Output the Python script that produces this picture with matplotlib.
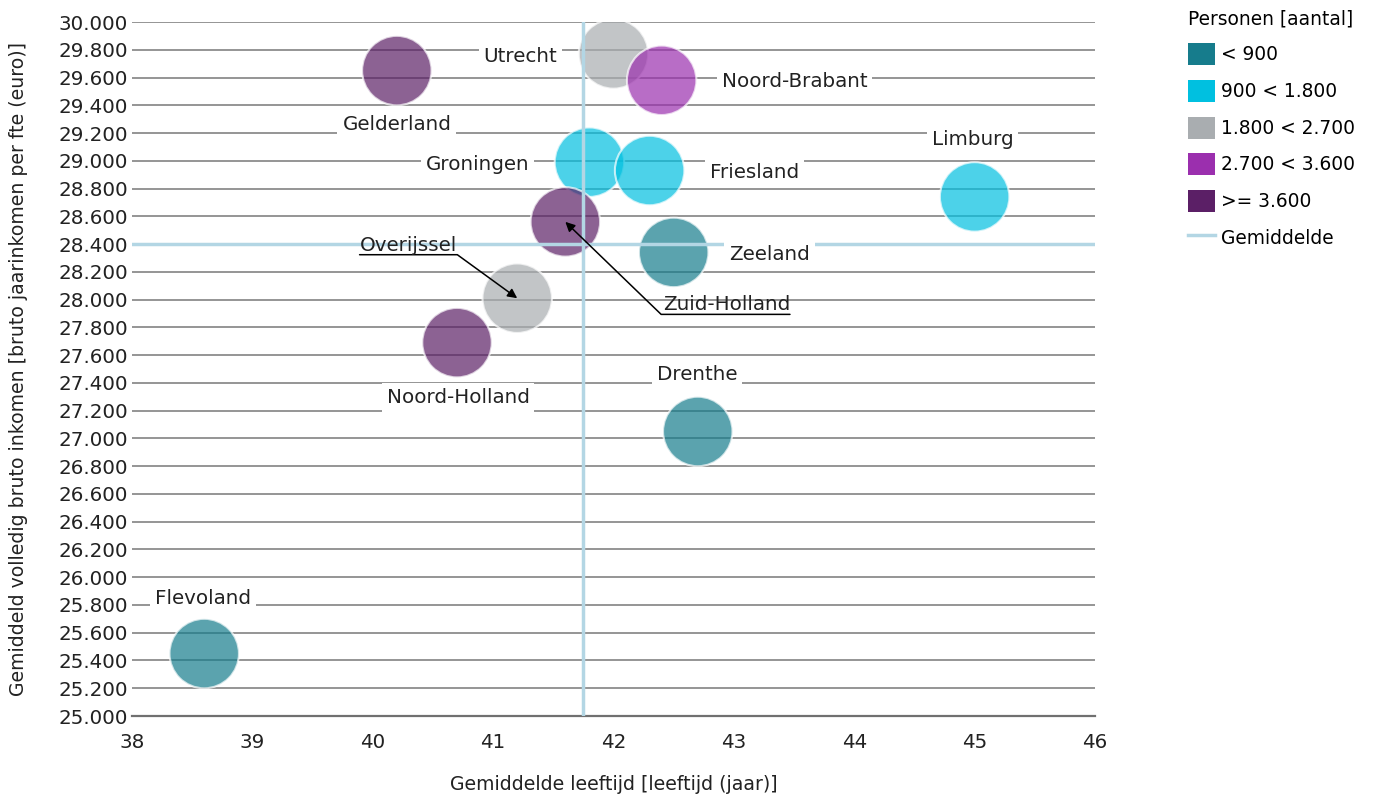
import matplotlib
matplotlib.use('Agg')
import matplotlib.pyplot as plt
from matplotlib.patches import Patch
from matplotlib.lines import Line2D
from matplotlib.ticker import FuncFormatter, MultipleLocator

# gegevens per provincie
provincies = ['Flevoland', 'Gelderland', 'Utrecht', 'Noord-Brabant', 'Groningen', 'Friesland',
              'Limburg', 'Zuid-Holland', 'Zeeland', 'Overijssel', 'Noord-Holland', 'Drenthe']
leeftijd = [38.6, 40.2, 42.0, 42.4, 41.8, 42.3, 45.0, 41.6, 42.5, 41.2, 40.7, 42.7]
inkomen = [25450, 29650, 29770, 29580, 28990, 28930, 28740, 28560, 28340, 28010, 27690, 27050]
klasse = [0, 4, 2, 3, 1, 1, 1, 4, 0, 2, 4, 0]

klasse_labels = ['< 900', '900 < 1.800', '1.800 < 2.700', '2.700 < 3.600', '>= 3.600']
gem_leeftijd = 41.75
gem_inkomen = 28400

kleuren = ['#167c8c', '#00c0e0', '#a9adb0', '#9b2fae', '#5b1f66']
gem_kleur = '#b3d6e4'
tekst_kleur = '#222222'
fs = 14.3

# label positie t.o.v. bubbel (pixels)
label_offset = {
    'Flevoland': (-1, 55), 'Gelderland': (0, -54), 'Utrecht': (-93, -3),
    'Noord-Brabant': (133, -1), 'Groningen': (-112, -2), 'Friesland': (105, -2),
    'Limburg': (-2, 57), 'Zuid-Holland': (161, -83), 'Zeeland': (96, -2),
    'Overijssel': (-109, 53), 'Noord-Holland': (1, -55), 'Drenthe': (-1, 57),
}
# labels met pijl: (relpos, angleB)
pijl_labels = {'Overijssel': ((0, 0), 144), 'Zuid-Holland': ((1, 0), 136)}

plt.rcParams['font.family'] = 'DejaVu Sans'
fig = plt.figure(figsize=(13.8, 8.02), dpi=100)
ax = fig.add_axes([132 / 1380, 1 - 716 / 802, (1095 - 132) / 1380, (716 - 22) / 802])

ax.scatter(leeftijd, inkomen, s=2500, c=[kleuren[k] for k in klasse], alpha=0.7,
           edgecolors='white', linewidths=1.5, zorder=2)

ax.axvline(gem_leeftijd, color=gem_kleur, lw=2.5, zorder=3)
ax.axhline(gem_inkomen, color=gem_kleur, lw=2.5, zorder=3)

for naam, x, y in zip(provincies, leeftijd, inkomen):
    dx, dy = label_offset[naam]
    if naam in pijl_labels:
        relpos, hoek = pijl_labels[naam]
        ax.annotate(naam, xy=(x, y), xytext=(dx, dy), textcoords='offset pixels',
                    ha='center', va='center', fontsize=fs, color=tekst_kleur, zorder=5,
                    arrowprops=dict(arrowstyle='-|>', color='black', lw=1.1, relpos=relpos,
                                    connectionstyle=f'angle,angleA=0,angleB={hoek},rad=0',
                                    shrinkA=0, shrinkB=0, patchA=None, mutation_scale=14))
    else:
        ax.annotate(naam, xy=(x, y), xytext=(dx, dy), textcoords='offset pixels',
                    ha='center', va='center', fontsize=fs, color=tekst_kleur, zorder=5,
                    bbox=dict(boxstyle='square,pad=0.25', fc='white', ec='none'))

ax.set_xlim(38, 46)
ax.set_ylim(25000, 30000)
ax.xaxis.set_major_locator(MultipleLocator(1))
ax.yaxis.set_major_locator(MultipleLocator(200))
ax.yaxis.set_major_formatter(FuncFormatter(lambda v, p: f'{v:,.0f}'.replace(',', '.')))
ax.grid(axis='y', color='#8c8c8c', lw=1.3, zorder=0)
ax.set_axisbelow(True)
for kant in ['top', 'left', 'right']:
    ax.spines[kant].set_visible(False)
ax.spines['bottom'].set_color('#707070')
ax.spines['bottom'].set_linewidth(1.6)
ax.tick_params(axis='both', length=0, labelsize=fs, labelcolor=tekst_kleur)
ax.tick_params(axis='x', pad=12)
ax.tick_params(axis='y', pad=3)

ax.set_xlabel('Gemiddelde leeftijd [leeftijd (jaar)]', fontsize=13.6, color=tekst_kleur, labelpad=17)
ax.set_ylabel('Gemiddeld volledig bruto inkomen [bruto jaarinkomen per fte (euro)]',
              fontsize=13.6, color=tekst_kleur, labelpad=22)

handles = [Patch(facecolor=k, edgecolor='none') for k in kleuren]
handles.append(Line2D([], [], color=gem_kleur, lw=2.5))
labels = klasse_labels + ['Gemiddelde']
leg = fig.legend(handles, labels, title='Personen [aantal]', loc='upper left',
                 bbox_to_anchor=(1171 / 1380, 1 + 7 / 802), frameon=False, fontsize=13.4,
                 title_fontsize=13.4, handlelength=1.45, handleheight=1.45, labelspacing=0.78,
                 handletextpad=0.35, alignment='left')

fig.savefig('out.png', dpi=100)
